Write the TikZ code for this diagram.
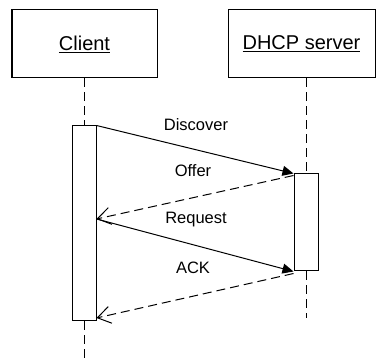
\documentclass[tikz,border=0pt]{standalone}
\usepackage{fontspec}
\setmainfont{Liberation Sans}
\usetikzlibrary{arrows.meta}
\usetikzlibrary{calc}
\tikzset{
    actor/.style={draw,line width=1pt,minimum width=145pt,minimum height=68pt,
        inner sep=0pt,font=\fontsize{20}{24}\selectfont},
    activation/.style={draw,line width=1pt,fill=white,minimum width=24pt,inner sep=0pt},
    lifeline/.style={line width=1pt,dash pattern=on 9pt off 5pt},
    call/.style={line width=1pt,-{Triangle[length=11pt,width=10pt]}},
    reply/.style={line width=1pt,dash pattern=on 9pt off 5pt,
        -{Straight Barb[length=13pt,width=17pt,line width=1pt]}},
    msg/.style={font=\fontsize{16.5}{20}\selectfont}
}
\begin{document}
\begin{tikzpicture}[x=1pt,y=-1pt]
    \useasboundingbox (0,0) rectangle (376,363);
    %actors
    \node[actor] (client) at (84.5,44) {\underline{Client}};
    \node[actor,minimum width=147pt] (server) at (301.5,44) {\underline{DHCP server}};
    %activations
    \node[activation,minimum height=195pt] (clientact) at (84,223.5) {};
    \node[activation,minimum height=97pt] (serveract) at (306,222.5) {};
    %lifelines
    \coordinate (clientend) at (84,363);
    \coordinate (serverend) at (306,318);
    \draw[lifeline] (client.south -| clientact.north) -- (clientact.north);
    \draw[lifeline] (clientact.south) -- (clientend);
    \draw[lifeline] (server.south -| serveract.north) -- (serveract.north);
    \draw[lifeline] (serveract.south) -- (serverend);
    %messages
    \coordinate (offerfrom) at ($(serveract.north west)+(0,2)$);
    \coordinate (offerto) at (clientact.east |- 0,219);
    \coordinate (ackfrom) at ($(serveract.south west)+(0,2)$);
    \coordinate (ackto) at (clientact.east |- 0,318);
    \draw[call] (clientact.north east) -- (serveract.north west);
    \draw[reply] (offerfrom) -- (offerto);
    \draw[call] (offerto) -- (serveract.south west);
    \draw[reply] (ackfrom) -- (ackto);
    %labels
    \node[msg] (discover) at (196,125) {Discover};
    \node[msg] (offer) at (193,171) {Offer};
    \node[msg] (request) at (196,220) {Request};
    \node[msg] (ack) at (193,268) {ACK};
\end{tikzpicture}
\end{document}
